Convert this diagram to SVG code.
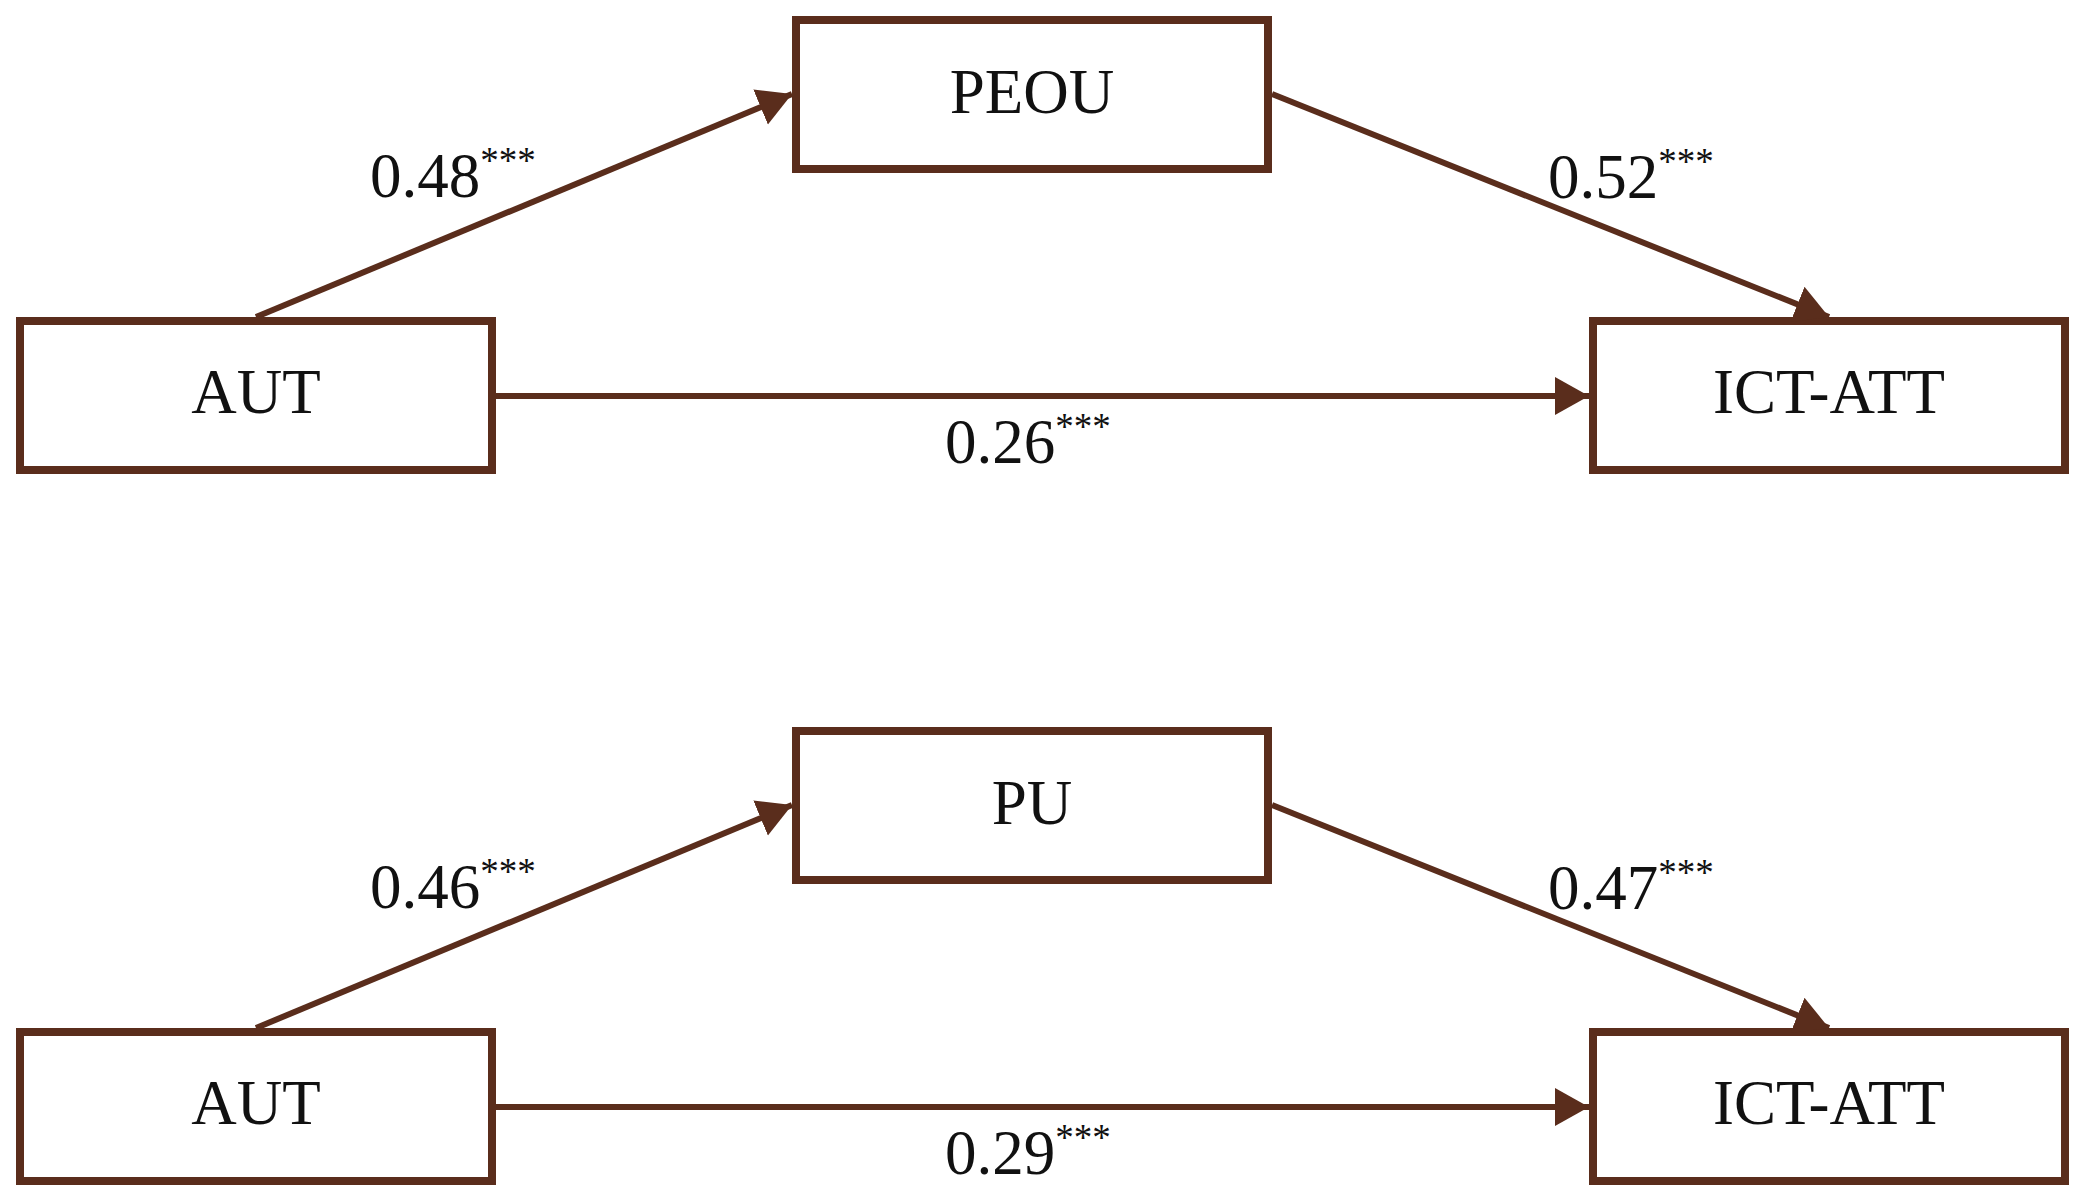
<svg xmlns="http://www.w3.org/2000/svg" width="2087" height="1204" viewBox="0 0 2087 1204">
<style>
.box{fill:#fff;stroke:#5a2d1c;stroke-width:8}
.lbl{font-family:"Liberation Serif","Times New Roman",serif;font-size:63px;fill:#111;text-anchor:middle}
.coef{font-family:"Liberation Serif","Times New Roman",serif;font-size:63px;fill:#111}
.sup{font-size:37px}
.edge{stroke:#5a2d1c;stroke-width:6;fill:none;marker-end:url(#ah)}
</style>
<defs>
<marker id="ah" markerUnits="userSpaceOnUse" markerWidth="36" markerHeight="40" viewBox="0 0 36 40" refX="34" refY="20" orient="auto">
<path d="M0,1 L34,20 L0,39 Z" fill="#5a2d1c"/>
</marker>
</defs>
<rect width="2087" height="1204" fill="#fff"/>
<g id="aut1"><rect class="box" x="20" y="321" width="472" height="149"/><text class="lbl" x="256" y="413">AUT</text></g>
<g id="peou"><rect class="box" x="796" y="20" width="472" height="149"/><text class="lbl" x="1032" y="113">PEOU</text></g>
<g id="ict1"><rect class="box" x="1593" y="321" width="472" height="149"/><text class="lbl" x="1829" y="413">ICT-ATT</text></g>
<g id="aut2"><rect class="box" x="20" y="1032" width="472" height="149"/><text class="lbl" x="256" y="1124">AUT</text></g>
<g id="pu"><rect class="box" x="796" y="731" width="472" height="149"/><text class="lbl" x="1032" y="824">PU</text></g>
<g id="ict2"><rect class="box" x="1593" y="1032" width="472" height="149"/><text class="lbl" x="1829" y="1124">ICT-ATT</text></g>
<g id="connectors">
<line class="edge" x1="256" y1="317" x2="792" y2="94"/>
<line class="edge" x1="1272" y1="94" x2="1829" y2="317"/>
<line class="edge" x1="496" y1="396" x2="1589" y2="396"/>
<line class="edge" x1="256" y1="1028" x2="792" y2="805"/>
<line class="edge" x1="1272" y1="805" x2="1829" y2="1028"/>
<line class="edge" x1="496" y1="1107" x2="1589" y2="1107"/>
</g>
<g id="labels">
<text class="coef" x="370" y="197">0.48<tspan class="sup" dy="-24">***</tspan></text>
<text class="coef" x="1548" y="198">0.52<tspan class="sup" dy="-24">***</tspan></text>
<text class="coef" x="945" y="463">0.26<tspan class="sup" dy="-24">***</tspan></text>
<text class="coef" x="370" y="908">0.46<tspan class="sup" dy="-24">***</tspan></text>
<text class="coef" x="1548" y="909">0.47<tspan class="sup" dy="-24">***</tspan></text>
<text class="coef" x="945" y="1174">0.29<tspan class="sup" dy="-24">***</tspan></text>
</g>
</svg>
